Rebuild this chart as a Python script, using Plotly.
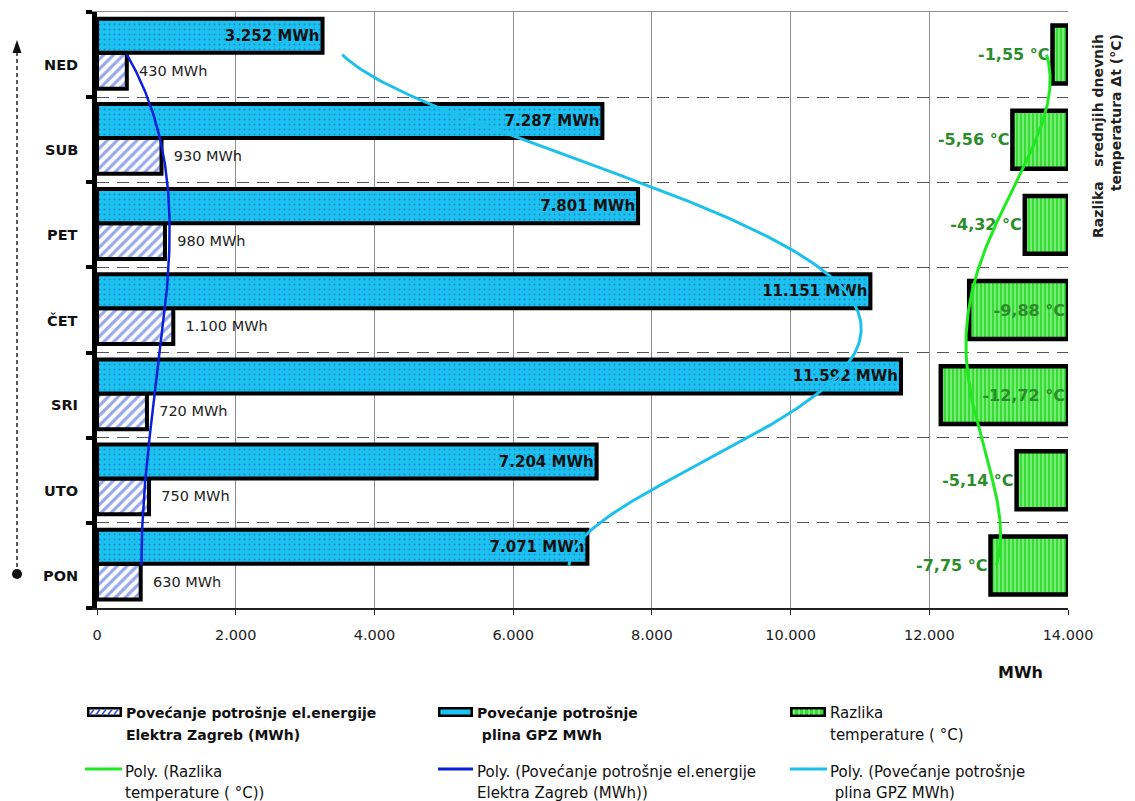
import numpy as np
import plotly.graph_objects as go

# ---- data -----------------------------------------------------------------
days = ["PON", "UTO", "SRI", "ČET", "PET", "SUB", "NED"]
elec_mwh = [630, 750, 720, 1100, 980, 930, 430]
gas_mwh = [7071, 7204, 11592, 11151, 7801, 7287, 3252]
temp_diff = [-7.75, -5.14, -12.72, -9.88, -4.32, -5.56, -1.55]
x_ticks = [0, 2000, 4000, 6000, 8000, 10000, 12000, 14000]

FONT = "DejaVu Sans"
NBSP = "\u00a0"

# ---- plot geometry (pixels) ---------------------------------------------------
W, H = 1135, 801
L, R, T, B = 97, 1068, 12, 608


def px(x):
    return (x - L) / (R - L)


def py(y):
    return (B - y) / (B - T)


def fmt_mwh(v):
    return f"{v:,}".replace(",", ".") + " MWh"


def fmt_deg(v):
    return f"{v:.2f}".replace(".", ",") + " °C"


pos = list(range(len(days)))
grid = np.linspace(0, len(days) - 1, 241)


def poly_trend(values, order=4):
    coef = np.polyfit(pos, values, order)
    return np.polyval(coef, grid)


BLUE_HATCH = "#2e4fd6"
GAS_CYAN = "#1cc1f2"
GREEN_BAR = "#35dd35"
GREEN_TXT = "#2b8c2b"
LINE_GREEN = "#1fea1f"
LINE_BLUE = "#0b1fd6"
LINE_CYAN = "#1dc0ea"

fig = go.Figure()

# electricity bars (hatched)
fig.add_trace(go.Bar(
    orientation="h", y=pos, x=elec_mwh, width=0.42, offset=-0.40,
    marker=dict(color="white",
                pattern=dict(shape="/", fgcolor=BLUE_HATCH, bgcolor="white",
                             size=7, solidity=0.45),
                line=dict(color="black", width=4)),
    text=[NBSP * 2 + fmt_mwh(v) for v in elec_mwh],
    textposition="outside", constraintext="none", cliponaxis=False,
    textfont=dict(family=FONT, size=14.5, color="#222"),
    showlegend=False, hoverinfo="skip",
))

# gas bars (dotted cyan)
fig.add_trace(go.Bar(
    orientation="h", y=pos, x=gas_mwh, width=0.40, offset=0.02,
    marker=dict(color=GAS_CYAN,
                pattern=dict(shape=".", fgcolor="#1b4f8a", bgcolor=GAS_CYAN,
                             size=5, solidity=0.12),
                line=dict(color="black", width=4)),
    text=[fmt_mwh(v) for v in gas_mwh],
    textposition="inside", insidetextanchor="end", constraintext="none",
    textfont=dict(family=FONT, size=15, color="#111", weight="bold"),
    showlegend=False, hoverinfo="skip",
))

# temperature difference bars on their own (top) axis
fig.add_trace(go.Bar(
    orientation="h", y=pos, x=temp_diff, width=0.68, offset=-0.34,
    xaxis="x2",
    marker=dict(color=GREEN_BAR,
                pattern=dict(shape="|", fgcolor="#d9ffd4", bgcolor=GREEN_BAR,
                             size=4, solidity=0.4),
                line=dict(color="black", width=4.5)),
    text=[fmt_deg(v) for v in temp_diff],
    textposition=["inside" if v < -9 else "outside" for v in temp_diff],
    insidetextanchor="start", constraintext="none", cliponaxis=False,
    textfont=dict(family=FONT, size=16, color=GREEN_TXT, weight="bold"),
    showlegend=False, hoverinfo="skip",
))

# polynomial trend lines
fig.add_trace(go.Scatter(x=poly_trend(elec_mwh), y=grid, mode="lines",
                         line=dict(color=LINE_BLUE, width=2.5),
                         showlegend=False, hoverinfo="skip"))
fig.add_trace(go.Scatter(x=poly_trend(gas_mwh), y=grid, mode="lines",
                         line=dict(color=LINE_CYAN, width=3),
                         showlegend=False, hoverinfo="skip"))
fig.add_trace(go.Scatter(x=poly_trend(temp_diff), y=grid, mode="lines",
                         xaxis="x2",
                         line=dict(color=LINE_GREEN, width=3),
                         showlegend=False, hoverinfo="skip"))

annotations = []
shapes = []

# day labels
for i, d in enumerate(days):
    annotations.append(dict(
        x=px(80), xref="paper", y=i - 0.12, yref="y", text=f"<b>{d}</b>",
        showarrow=False, xanchor="right", yanchor="middle",
        font=dict(family=FONT, size=14.5, color="#111")))

# unit label under the value axis
annotations.append(dict(
    x=px(1020), y=py(672), xref="paper", yref="paper", text="<b>MWh</b>",
    showarrow=False, xanchor="center", yanchor="middle",
    font=dict(family=FONT, size=16, color="#111")))

# title of the temperature axis, rotated on the right
annotations.append(dict(
    x=px(1107), y=py(136), xref="paper", yref="paper",
    text=f"<b>Razlika{NBSP * 3}srednjih dnevnih<br>temperatura Δt (°C)</b>",
    textangle=-90, align="right", showarrow=False,
    xanchor="center", yanchor="middle",
    font=dict(family=FONT, size=14, color="#222")))

# dotted time arrow on the left
shapes.append(dict(type="line", xref="paper", yref="paper",
                   x0=px(17), x1=px(17), y0=py(574), y1=py(52),
                   line=dict(color="#222", width=1.5, dash="4px,3px")))
shapes.append(dict(type="path", xref="paper", yref="paper",
                   path=(f"M{px(17)},{py(40)} L{px(12.5)},{py(53)} "
                         f"L{px(21.5)},{py(53)} Z"),
                   fillcolor="#111", line=dict(width=0)))
shapes.append(dict(type="circle", xref="paper", yref="paper",
                   x0=px(12), x1=px(22), y0=py(579), y1=py(569),
                   fillcolor="#111", line=dict(width=0)))

# ---- hand-built legend ----------------------------------------------------------
def legend_text(x, y_lines, lines, bold):
    for yl, line in zip(y_lines, lines):
        txt = f"<b>{line}</b>" if bold else line
        annotations.append(dict(
            x=px(x), y=py(yl), xref="paper", yref="paper", text=txt,
            showarrow=False, xanchor="left", yanchor="middle",
            font=dict(family=FONT, size=14 if bold else 15, color="#111")))


def legend_box(x0, x1, yc, inner):
    shapes.append(dict(type="rect", xref="paper", yref="paper",
                       x0=px(x0), x1=px(x1), y0=py(yc + 5), y1=py(yc - 5),
                       fillcolor="black", line=dict(width=0)))
    shapes.append(dict(type="rect", xref="paper", yref="paper",
                       x0=px(x0 + 2.5), x1=px(x1 - 2.5),
                       y0=py(yc + 2.5), y1=py(yc - 2.5),
                       fillcolor=inner, line=dict(width=0)))


def legend_line(x0, x1, yc, color):
    shapes.append(dict(type="line", xref="paper", yref="paper",
                       x0=px(x0), x1=px(x1), y0=py(yc), y1=py(yc),
                       line=dict(color=color, width=3)))


row1, row2 = 712, 769
legend_box(87, 122, row1, "white")
for k in range(5):
    shapes.append(dict(type="line", xref="paper", yref="paper",
                       x0=px(90 + 6 * k), x1=px(94 + 6 * k),
                       y0=py(714.5), y1=py(709.5),
                       line=dict(color=BLUE_HATCH, width=1.5)))
legend_box(438, 473, row1, GAS_CYAN)
legend_box(790, 826, row1, GREEN_BAR)
for k in range(6):
    shapes.append(dict(type="line", xref="paper", yref="paper",
                       x0=px(794 + 5 * k), x1=px(794 + 5 * k),
                       y0=py(714.5), y1=py(709.5),
                       line=dict(color="#d9ffd4", width=1)))
legend_line(85, 122, row2, LINE_GREEN)
legend_line(438, 473, row2, LINE_BLUE)
legend_line(790, 827, row2, LINE_CYAN)

legend_text(124, [713, 735],
            ["Povećanje potrošnje el.energije", "Elektra Zagreb (MWh)"], True)
legend_text(475, [713, 735],
            ["Povećanje potrošnje", NBSP + "plina GPZ MWh"], True)
legend_text(828, [713, 735], ["Razlika", "temperature ( °C)"], False)
legend_text(123, [772, 793], ["Poly. (Razlika", "temperature ( °C))"], False)
legend_text(475, [772, 793],
            ["Poly. (Povećanje potrošnje el.energije", "Elektra Zagreb (MWh))"],
            False)
legend_text(828, [772, 793],
            ["Poly. (Povećanje potrošnje", NBSP + "plina GPZ MWh)"], False)

fig.update_layout(
    width=W, height=H,
    margin=dict(l=L, r=W - R, t=T, b=H - B, pad=0),
    paper_bgcolor="white", plot_bgcolor="white",
    barmode="overlay",
    font=dict(family=FONT, color="#222"),
    xaxis=dict(range=[0, 14000], tickvals=x_ticks,
               ticktext=[f"{v:,}".replace(",", ".") for v in x_ticks],
               showgrid=True, gridcolor="#8c8c8c", gridwidth=1,
               showline=True, linecolor="#222", linewidth=1.5,
               ticks="outside", ticklen=5, tickwidth=1.2, tickcolor="#222",
               tickfont=dict(family=FONT, size=14.5, color="#222"),
               ticklabelstandoff=8, zeroline=False),
    xaxis2=dict(overlaying="x", side="top", range=[-(R - L) / 10, 0],
                showgrid=False, showticklabels=False, ticks="",
                showline=True, linecolor="#8c8c8c", linewidth=1,
                zeroline=False),
    yaxis=dict(range=[-0.5, len(days) - 0.5],
               tickvals=[i - 0.5 for i in range(len(days) + 1)],
               showticklabels=False, ticks="outside", ticklen=6,
               tickwidth=4, tickcolor="black",
               showline=True, linewidth=5, linecolor="black",
               showgrid=True, gridcolor="#555", gridwidth=1,
               griddash="12px,8px", zeroline=False),
    annotations=annotations,
    shapes=shapes,
)

fig.write_html("out.html")
